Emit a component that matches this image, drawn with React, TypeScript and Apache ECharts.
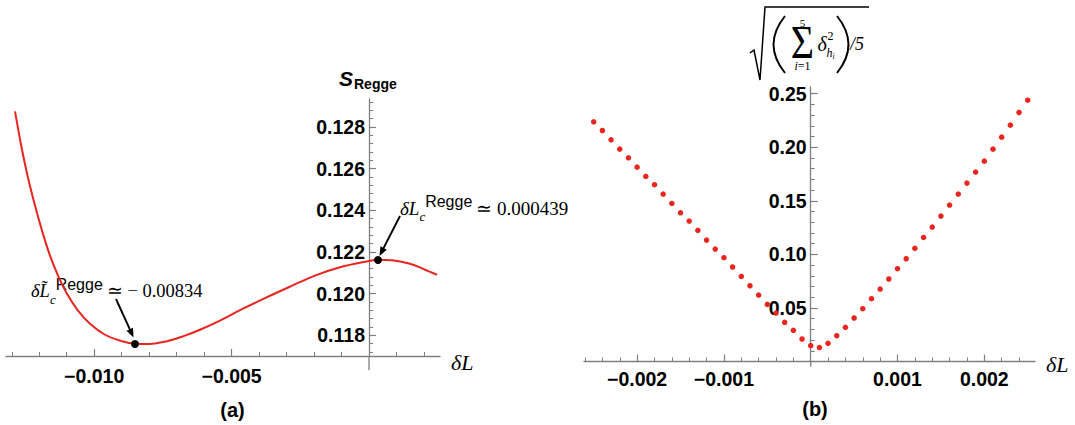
import React, { useEffect, useRef } from "react";
import * as echarts from "echarts";

const RED = "#e8261f";
const AXIS = "#7f7f7f";
const SANS = "Liberation Sans, Arial, sans-serif";
const SERIF = "Liberation Serif, Times New Roman, serif";

// ---------- Panel (a): S_Regge versus deltaL
const curveDL = [
  -0.012882, -0.012627, -0.012409, -0.012154, -0.0119, -0.011608, -0.011317,
  -0.01099, -0.01059, -0.010153, -0.009607, -0.009061, -0.008515, -0.007969,
  -0.007351, -0.006696, -0.00615, -0.005422, -0.004694, -0.003785, -0.002875,
  -0.001965, -0.001055, -0.000036, 0.000328, 0.000837, 0.001492, 0.002038,
  0.002475,
];
const curveS = [
  0.12874, 0.1269, 0.12556, 0.12422, 0.12302, 0.12182, 0.12086, 0.11999,
  0.11918, 0.11855, 0.11802, 0.11774, 0.11759, 0.11758, 0.11771, 0.11798,
  0.11826, 0.1187, 0.1192, 0.11978, 0.12033, 0.12086, 0.12126, 0.12155,
  0.12162, 0.1216, 0.12143, 0.12114, 0.1209,
];
const markedDL = [-0.008515, 0.000328];
const markedS = [0.11758, 0.12161];
const aXLabels = [-0.01, -0.005];
const aYLabels = [0.118, 0.12, 0.122, 0.124, 0.126, 0.128];

// ---------- Panel (b): rms deviation versus deltaL
const bDL = [
  -0.0025, -0.0024, -0.0023, -0.0022, -0.0021, -0.002, -0.0019, -0.0018,
  -0.0017, -0.0016, -0.0015, -0.0014, -0.0013, -0.0012, -0.0011, -0.001,
  -0.0009, -0.0008, -0.0007, -0.0006, -0.0005, -0.0004, -0.0003, -0.0002,
  -0.0001, 0.0, 0.0001, 0.0002, 0.0003, 0.0004, 0.0005, 0.0006, 0.0007,
  0.0008, 0.0009, 0.001, 0.0011, 0.0012, 0.0013, 0.0014, 0.0015, 0.0016,
  0.0017, 0.0018, 0.0019, 0.002, 0.0021, 0.0022, 0.0023, 0.0024, 0.0025,
];
const bRms = [
  0.2237, 0.2156, 0.2069, 0.1982, 0.1901, 0.1814, 0.1727, 0.165, 0.1563,
  0.1475, 0.1388, 0.1311, 0.1224, 0.1133, 0.1049, 0.0969, 0.0882, 0.0794,
  0.0707, 0.062, 0.0533, 0.0452, 0.0365, 0.0291, 0.021, 0.0148, 0.013, 0.017,
  0.0241, 0.0319, 0.0406, 0.0493, 0.0586, 0.0676, 0.077, 0.0866, 0.0959,
  0.1056, 0.1158, 0.1255, 0.1357, 0.146, 0.1563, 0.1665, 0.1768, 0.187,
  0.1982, 0.2094, 0.2206, 0.2324, 0.2439,
];
const bXLabels = [-0.002, -0.001, 0.001, 0.002];
const bYLabels = [0.05, 0.1, 0.15, 0.2, 0.25];

// minor tick positions
const aXMinor: number[] = [];
for (let i = -13; i <= 2; i++) if (i % 5 !== 0) aXMinor.push(i / 1000);
const aYMinor: number[] = [];
for (let i = 293; i <= 323; i++) if (i % 5 !== 0) aYMinor.push((i * 4) / 10000);
const bXMinor: number[] = [];
for (let i = -13; i <= 12; i++) if (i % 5 !== 0) bXMinor.push((i * 2) / 10000);
const bYMinor: number[] = [];
for (let i = 1; i <= 25; i++) if (i % 5 !== 0) bYMinor.push(i / 100);

// grid geometry (pixels)
const A = { left: 6, right: 440, top: 99, bottom: 356, xMin: -0.01321, xMax: 0.002584, yMin: 0.117, yMax: 0.129336 };
const B = { left: 584, right: 1035, top: 87, bottom: 361.5, xMin: -0.002612, xMax: 0.002584, yMin: 0, yMax: 0.2562 };
const zeroOffset = (g: typeof A) => -((0 - g.xMin) / (g.xMax - g.xMin)) * (g.right - g.left);
const zeroX = (g: typeof A) => g.left - zeroOffset(g);

const minusFmt = (d: number) => (v: number) =>
  (v < 0 ? "\u2212" : "") + Math.abs(v).toFixed(d);

const labelStyle = {
  fontFamily: SANS,
  fontWeight: "bold" as const,
  fontSize: 19.5,
  color: "#000",
};

function xAxes(grid: number, g: typeof A, labels: number[], minor: number[], margin: number) {
  return [
    {
      type: "value", gridIndex: grid, min: g.xMin, max: g.xMax, position: "bottom",
      axisLine: { show: true, onZero: false, lineStyle: { color: AXIS, width: 1.3 } },
      axisTick: { show: true, inside: true, length: 4, customValues: minor, lineStyle: { color: AXIS, width: 1 } },
      axisLabel: { show: true, customValues: labels, formatter: minusFmt(3), margin, ...labelStyle },
      splitLine: { show: false },
    },
    {
      type: "value", gridIndex: grid, min: g.xMin, max: g.xMax, position: "bottom",
      axisLine: { show: false, onZero: false },
      axisTick: { show: true, inside: true, length: 7, customValues: labels, lineStyle: { color: AXIS, width: 1.2 } },
      axisLabel: { show: false },
      splitLine: { show: false },
    },
  ];
}

function yAxes(grid: number, g: typeof A, labels: number[], minor: number[], dec: number) {
  const offset = zeroOffset(g);
  return [
    {
      type: "value", gridIndex: grid, min: g.yMin, max: g.yMax, position: "left", offset,
      axisLine: { show: true, onZero: false, lineStyle: { color: AXIS, width: 1.3 } },
      axisTick: { show: true, inside: true, length: 4, customValues: minor, lineStyle: { color: AXIS, width: 1 } },
      axisLabel: { show: true, customValues: labels, formatter: (v: number) => v.toFixed(dec), margin: 4, ...labelStyle },
      splitLine: { show: false },
    },
    {
      type: "value", gridIndex: grid, min: g.yMin, max: g.yMax, position: "left", offset,
      axisLine: { show: false, onZero: false },
      axisTick: { show: true, inside: true, length: 7, customValues: labels, lineStyle: { color: AXIS, width: 1.2 } },
      axisLabel: { show: false },
      splitLine: { show: false },
    },
  ];
}

function arrow(x1: number, y1: number, x2: number, y2: number) {
  const dx = x2 - x1, dy = y2 - y1;
  const L = Math.hypot(dx, dy);
  const ux = dx / L, uy = dy / L;
  const hl = 9, hw = 3.6;
  const bx = x2 - ux * hl, by = y2 - uy * hl;
  return [
    { type: "line", silent: true, shape: { x1, y1, x2: bx + ux, y2: by + uy }, style: { stroke: "#000", lineWidth: 1.9 } },
    { type: "polygon", silent: true, shape: { points: [[x2, y2], [bx - uy * hw, by + ux * hw], [bx + uy * hw, by - ux * hw]] }, style: { fill: "#000" } },
  ];
}

function txt(x: number, y: number, text: string, font: any, align = "left") {
  return {
    type: "text", silent: true, x, y,
    style: { text, fill: "#000", textAlign: align, textVerticalAlign: "middle", ...font },
  };
}

const serifIt = (s: number) => ({ fontFamily: SERIF, fontStyle: "italic", fontSize: s });
const serif = (s: number) => ({ fontFamily: SERIF, fontSize: s });
const sans = (s: number) => ({ fontFamily: SANS, fontSize: s });
const sansB = (s: number) => ({ fontFamily: SANS, fontSize: s, fontWeight: "bold" });

// δL_c^Regge ≃ value, as one rich text (subscript low, superscript high)
function critLabel(x: number, y: number, sym: string, value: string, size: number) {
  return {
    type: "text", silent: true, x, y,
    style: {
      text: `{a|${sym}}{c|c}{r|Regge}{b|${value}}`,
      textAlign: "left", textVerticalAlign: "middle", fill: "#000",
      rich: {
        a: { ...serifIt(size), lineHeight: 30, verticalAlign: "middle", fill: "#000" },
        c: { ...serifIt(13), lineHeight: 19, verticalAlign: "bottom", fill: "#000" },
        r: { ...sans(16), lineHeight: 16, verticalAlign: "top", fill: "#000" },
        b: { ...serif(size), lineHeight: 30, verticalAlign: "middle", fill: "#000", padding: [0, 0, 0, 4] },
      },
    },
  };
}

const axisStub = (x: number, y1: number, y2: number) => ({
  type: "line", silent: true, shape: { x1: x, y1, x2: x, y2 }, style: { stroke: AXIS, lineWidth: 1.3 },
});

const graphics: any[] = [
  // y axes run a little below the x axes
  axisStub(zeroX(A), A.bottom, A.bottom + 14),
  axisStub(zeroX(B), B.bottom, B.bottom + 5),
  // panel (a) axis titles
  txt(339, 78, "S", { fontFamily: SANS, fontSize: 21, fontWeight: "bold", fontStyle: "italic" }),
  txt(354, 84, "Regge", sansB(14)),
  txt(451, 362, "\u03b4L", serifIt(22)),
  txt(232.5, 410, "(a)", sansB(20), "center"),
  // annotation: minimum
  critLabel(31, 291, "\u03b4L\u0303", "\u2243 \u2212 0.00834", 18.5),
  ...arrow(116, 299, 133.5, 337.5),
  // annotation: maximum
  critLabel(400, 208, "\u03b4L", "\u2243 0.000439", 19),
  ...arrow(400, 216, 379.5, 256),
  // panel (b) axis titles
  txt(1046, 364, "\u03b4L", serifIt(22)),
  txt(815, 408.5, "(b)", sansB(20), "center"),
  // sqrt( sum_{i=1}^{5} delta^2_{h_i} ) / 5
  { type: "polyline", silent: true, shape: { points: [[750, 53], [754, 50], [760, 80], [765, 7], [869, 7]] }, style: { stroke: "#000", lineWidth: 1.5, fill: "none" } },
  { type: "bezierCurve", silent: true, shape: { x1: 785, y1: 16, cpx1: 762, cpy1: 44.5, x2: 785, y2: 73 }, style: { stroke: "#000", lineWidth: 1.9, fill: "none" } },
  { type: "bezierCurve", silent: true, shape: { x1: 837, y1: 16, cpx1: 860, cpy1: 44.5, x2: 837, y2: 73 }, style: { stroke: "#000", lineWidth: 1.9, fill: "none" } },
  { type: "text", silent: true, x: 802.5, y: 43, scaleY: 1.15, style: { text: "\u03a3", fill: "#000", textAlign: "center", textVerticalAlign: "middle", ...serif(40) } },
  txt(802.5, 22.5, "5", serif(11), "center"),
  {
    type: "text", silent: true, x: 802.5, y: 65.5,
    style: {
      text: "{i|i}{n|=1}", textAlign: "center", textVerticalAlign: "middle", fill: "#000",
      rich: { i: { ...serifIt(12), fill: "#000" }, n: { ...serif(12), fill: "#000" } },
    },
  },
  txt(817.5, 44, "\u03b4", serifIt(20)),
  txt(827.5, 35.5, "2", serif(12)),
  txt(826.5, 53, "h", serifIt(12)),
  txt(832.5, 56.5, "i", serifIt(8)),
  txt(850, 44, "/5", serifIt(18)),
];

const option: any = {
  animation: false,
  backgroundColor: "#fff",
  grid: [
    { left: A.left, right: 1075 - A.right, top: A.top, bottom: 425 - A.bottom, containLabel: false, outerBoundsMode: "none" },
    { left: B.left, right: 1075 - B.right, top: B.top, bottom: 425 - B.bottom, containLabel: false, outerBoundsMode: "none" },
  ],
  xAxis: [
    ...xAxes(0, A, aXLabels, aXMinor, 9.5),
    ...xAxes(1, B, bXLabels, bXMinor, 7),
  ],
  yAxis: [
    ...yAxes(0, A, aYLabels, aYMinor, 3),
    ...yAxes(1, B, bYLabels, bYMinor, 2),
  ],
  series: [
    {
      type: "line", xAxisIndex: 0, yAxisIndex: 0, smooth: 0.4, showSymbol: false,
      lineStyle: { color: RED, width: 2 }, itemStyle: { color: RED }, z: 3,
      data: curveDL.map((x, i) => [x, curveS[i]]),
    },
    {
      type: "scatter", xAxisIndex: 0, yAxisIndex: 0, symbolSize: 8, z: 4,
      itemStyle: { color: "#000", opacity: 1 },
      data: markedDL.map((x, i) => [x, markedS[i]]),
    },
    {
      type: "scatter", xAxisIndex: 2, yAxisIndex: 2, symbolSize: 5.5, z: 3,
      itemStyle: { color: RED, opacity: 1 },
      data: bDL.map((x, i) => [x, bRms[i]]),
    },
  ],
  graphic: graphics,
};

export default function App() {
  const ref = useRef<HTMLDivElement>(null);
  useEffect(() => {
    const chart = echarts.init(ref.current!, null, { renderer: "svg" });
    chart.setOption(option);
    return () => chart.dispose();
  }, []);
  return (
    <div
      ref={ref}
      style={{ position: "absolute", left: 0, top: 0, width: 1075, height: 425, background: "#fff" }}
    />
  );
}
